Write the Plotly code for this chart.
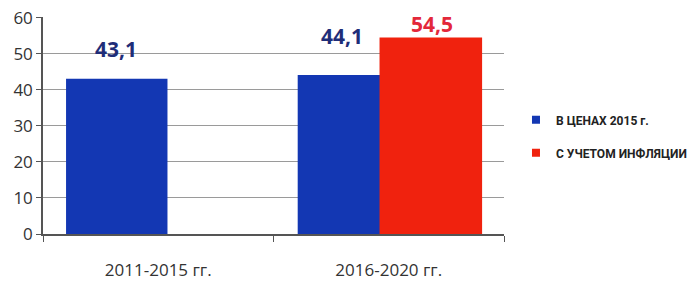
import plotly.graph_objects as go

categories = ["2011-2015 гг.", "2016-2020 гг."]
series_names = ["В ЦЕНАХ 2015 г.", "С УЧЕТОМ ИНФЛЯЦИИ"]
prices_2015 = [43.1, 44.1]
with_inflation = [None, 54.5]
blue_labels = ["43,1", "44,1"]
red_labels = [None, "54,5"]

BLUE = "#1337b3"
RED = "#f0220e"

fig = go.Figure()
fig.add_trace(go.Bar(x=categories, y=prices_2015, name=series_names[0], showlegend=False,
                     offset=[-0.40, -0.395], width=[0.44, 0.36],
                     marker=dict(color=BLUE, line=dict(width=0))))
fig.add_trace(go.Bar(x=categories, y=with_inflation, name=series_names[1], showlegend=False,
                     offset=[-0.04, -0.04], width=[0.44, 0.445],
                     marker=dict(color=RED, line=dict(width=0))))
# legend entries with square markers
for name, col, grp in [(series_names[0], BLUE, "a"), (series_names[1], RED, "b")]:
    fig.add_trace(go.Scatter(x=[None], y=[None], mode="markers", name=name, legendgroup=grp,
                             marker=dict(symbol="square", size=8, color=col)))

# value labels
label_font = dict(size=21, family="Open Sans")
for i, c in enumerate(categories):
    if blue_labels[i] is not None:
        fig.add_annotation(x=c, y=prices_2015[i], text="<b>" + blue_labels[i] + "</b>", showarrow=False,
                           xshift=-42 if i == 0 else -47, yshift=30 if i == 0 else 39,
                           font=dict(label_font, color="#1f2d78"))
    if red_labels[i] is not None:
        fig.add_annotation(x=c, y=with_inflation[i], text="<b>" + red_labels[i] + "</b>", showarrow=False,
                           xshift=43, yshift=14,
                           font=dict(label_font, color="#e3283a"))

fig.update_layout(
    width=693, height=283,
    margin=dict(l=43, r=189, t=17, b=49, autoexpand=False),
    paper_bgcolor="white", plot_bgcolor="white",
    barmode="overlay",
    font=dict(family="Open Sans", color="#333333"),
    legend=dict(x=1.026, y=0.45, xanchor="left", yanchor="middle",
                font=dict(family="Roboto", size=12, color="#222222", weight="bold"),
                tracegroupgap=14, itemwidth=30),
    showlegend=True,
)
fig.update_yaxes(range=[0, 60.2], dtick=10, showgrid=True, gridcolor="#9a9a9a", gridwidth=1,
                 showline=True, linecolor="#555555", linewidth=1.5, automargin=False,
                 ticks="outside", ticklen=5, tickcolor="#555555",
                 tickfont=dict(size=17, color="#333333"), zeroline=False)
fig.update_xaxes(range=[-0.5, 1.5], showline=True, linecolor="#555555", linewidth=1.5, automargin=False,
                 ticks="outside", tickson="boundaries", ticklen=6, tickcolor="#555555",
                 ticklabelstandoff=20,
                 tickfont=dict(size=17, color="#333333"))

fig.write_html("out.html", config={"displayModeBar": False},
               post_script="document.body.style.margin='0';")
